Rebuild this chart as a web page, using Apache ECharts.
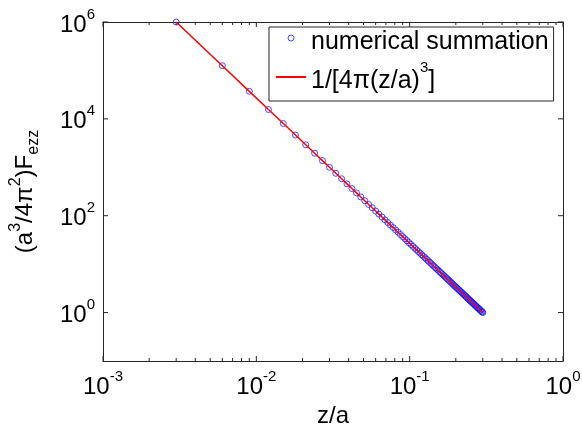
<!DOCTYPE html>
<html>
<head>
<meta charset="utf-8">
<script src="https://cdn.jsdelivr.net/npm/echarts@6/dist/echarts.min.js"></script>
<style>
  html, body { margin: 0; padding: 0; background: #fff; }
  #chart { width: 582px; height: 426px; }
</style>
</head>
<body>
<div id="chart"></div>
<script>
// z/a values of the plotted points
var zValues = [
  0.003, 0.006, 0.009, 0.012, 0.015, 0.018, 0.021, 0.024, 0.027, 0.030,
  0.033, 0.036, 0.039, 0.042, 0.045, 0.048, 0.051, 0.054, 0.057, 0.060,
  0.063, 0.066, 0.069, 0.072, 0.075, 0.078, 0.081, 0.084, 0.087, 0.090,
  0.093, 0.096, 0.099, 0.102, 0.105, 0.108, 0.111, 0.114, 0.117, 0.120,
  0.123, 0.126, 0.129, 0.132, 0.135, 0.138, 0.141, 0.144, 0.147, 0.150,
  0.153, 0.156, 0.159, 0.162, 0.165, 0.168, 0.171, 0.174, 0.177, 0.180,
  0.183, 0.186, 0.189, 0.192, 0.195, 0.198, 0.201, 0.204, 0.207, 0.210,
  0.213, 0.216, 0.219, 0.222, 0.225, 0.228, 0.231, 0.234, 0.237, 0.240,
  0.243, 0.246, 0.249, 0.252, 0.255, 0.258, 0.261, 0.264, 0.267, 0.270,
  0.273, 0.276, 0.279, 0.282, 0.285, 0.288, 0.291, 0.294, 0.297, 0.300
];
// numerical summation (blue circles)
var summation = [
  1000000, 125000, 37000, 15600, 8000, 4630, 2915, 1953, 1372, 1000,
  751, 579, 455, 364, 296, 244, 204, 171, 146, 125,
  108, 93.9, 82.2, 72.3, 64.0, 56.9, 50.8, 45.6, 41.0, 37.0,
  33.6, 30.5, 27.8, 25.4, 23.3, 21.4, 19.7, 18.2, 16.9, 15.6,
  14.5, 13.5, 12.6, 11.7, 11.0, 10.3, 9.63, 9.04, 8.50, 8.00,
  7.54, 7.11, 6.72, 6.35, 6.01, 5.69, 5.40, 5.13, 4.87, 4.63,
  4.41, 4.20, 4.00, 3.81, 3.64, 3.48, 3.32, 3.18, 3.04, 2.92,
  2.79, 2.68, 2.57, 2.47, 2.37, 2.28, 2.19, 2.11, 2.03, 1.95,
  1.88, 1.81, 1.75, 1.69, 1.63, 1.57, 1.52, 1.47, 1.42, 1.37,
  1.33, 1.28, 1.24, 1.20, 1.17, 1.13, 1.10, 1.06, 1.03, 1.00
];
// analytic curve 1/[4pi(z/a)^3] (red line)
var analytic = summation.slice();

var xMajorTicks = [0.001, 0.01, 0.1, 1];
var xMinorTicks = [
  0.002, 0.003, 0.004, 0.005, 0.006, 0.007, 0.008, 0.009,
  0.02, 0.03, 0.04, 0.05, 0.06, 0.07, 0.08, 0.09,
  0.2, 0.3, 0.4, 0.5, 0.6, 0.7, 0.8, 0.9
];
var yMajorTicks = [1, 100, 10000, 1000000];

var X_MIN = 0.001, X_MAX = 1, Y_MIN = 0.1, Y_MAX = 1000000;
var FONT = 'Arial, "Liberation Sans", sans-serif';
var AXIS_COLOR = '#262626';
var BLUE = '#1a1aff';

var scatterData = zValues.map(function (z, i) { return [z, summation[i]]; });
var lineData = zValues.map(function (z, i) { return [z, analytic[i]]; });

// tick marks: [x, y, side(0 bottom,1 top,2 left,3 right), major]
var tickData = [];
xMajorTicks.forEach(function (v) {
  tickData.push([v, Y_MIN, 0, 1]);
  tickData.push([v, Y_MAX, 1, 1]);
});
xMinorTicks.forEach(function (v) {
  tickData.push([v, Y_MIN, 0, 0]);
  tickData.push([v, Y_MAX, 1, 0]);
});
yMajorTicks.forEach(function (v) {
  tickData.push([X_MIN, v, 2, 1]);
  tickData.push([X_MAX, v, 3, 1]);
});

function powLabel(value, evenOnly) {
  var e = Math.round(Math.log10(value));
  if (evenOnly && (e % 2 !== 0 || e < 0)) return '';
  return '{b|10}{sup|' + e + '}';
}

var tickRich = {
  b: { fontSize: 24, fontFamily: FONT, color: '#000', lineHeight: 30, verticalAlign: 'bottom' },
  sup: { fontSize: 15, fontFamily: FONT, color: '#000', lineHeight: 30, verticalAlign: 'top' }
};

var chart = echarts.init(document.getElementById('chart'));

chart.setOption({
  backgroundColor: '#fff',
  animation: false,
  grid: { left: 103, right: 19, top: 22, bottom: 65, containLabel: false, outerBoundsMode: 'none' },
  legend: {
    left: 269,
    top: 27,
    orient: 'vertical',
    selectedMode: false,
    backgroundColor: '#fff',
    borderColor: AXIS_COLOR,
    borderWidth: 1,
    borderRadius: 0,
    padding: [3, 5, 7, 6],
    itemGap: 5,
    itemWidth: 30,
    itemHeight: 6,
    itemStyle: { borderWidth: 1 },
    textStyle: {
      fontSize: 25,
      fontFamily: FONT,
      color: '#000',
      rich: {
        n: { fontSize: 25, fontFamily: FONT, color: '#000', lineHeight: 34, verticalAlign: 'bottom' },
        sup: { fontSize: 15, fontFamily: FONT, color: '#000', lineHeight: 34, verticalAlign: 'top' }
      }
    },
    formatter: function (name) {
      if (name === 'analytic') return '{n|1/[4π(z/a)}{sup|3}{n|]}';
      return '{n|numerical summation}';
    },
    data: [
      { name: 'summation', itemStyle: { borderWidth: 1, borderColor: BLUE, color: 'rgba(255,255,255,0)' } },
      { name: 'analytic', itemStyle: { opacity: 0 } }
    ]
  },
  xAxis: [{
    type: 'log',
    logBase: 10,
    min: X_MIN,
    max: X_MAX,
    name: 'z/a',
    nameLocation: 'middle',
    nameGap: 28,
    nameTextStyle: { fontSize: 24, fontFamily: FONT, color: '#000' },
    axisLine: { show: true, lineStyle: { color: AXIS_COLOR, width: 1 } },
    axisTick: { show: false },
    splitLine: { show: false },
    axisLabel: {
      margin: 8,
      formatter: function (v) { return powLabel(v, false); },
      rich: tickRich
    }
  }, {
    type: 'log',
    logBase: 10,
    min: X_MIN,
    max: X_MAX,
    position: 'top',
    axisLine: { show: true, lineStyle: { color: AXIS_COLOR, width: 1 } },
    axisTick: { show: false },
    axisLabel: { show: false },
    splitLine: { show: false }
  }],
  yAxis: [{
    type: 'log',
    logBase: 10,
    min: Y_MIN,
    max: Y_MAX,
    name: '{n|(a}{sup|3}{n|/4π}{sup|2}{n|)F}{sub|ezz}',
    nameLocation: 'middle',
    nameGap: 61,
    nameRotate: 90,
    nameTextStyle: {
      rich: {
        n: { fontSize: 24, fontFamily: FONT, color: '#000', lineHeight: 34, verticalAlign: 'middle' },
        sup: { fontSize: 16, fontFamily: FONT, color: '#000', lineHeight: 34, verticalAlign: 'top' },
        sub: { fontSize: 16, fontFamily: FONT, color: '#000', lineHeight: 34, verticalAlign: 'bottom' }
      }
    },
    axisLine: { show: true, lineStyle: { color: AXIS_COLOR, width: 1 } },
    axisTick: { show: false },
    splitLine: { show: false },
    axisLabel: {
      margin: 8,
      formatter: function (v) { return powLabel(v, true); },
      rich: tickRich
    }
  }, {
    type: 'log',
    logBase: 10,
    min: Y_MIN,
    max: Y_MAX,
    position: 'right',
    axisLine: { show: true, lineStyle: { color: AXIS_COLOR, width: 1 } },
    axisTick: { show: false },
    axisLabel: { show: false },
    splitLine: { show: false }
  }],
  series: [{
    name: 'summation',
    type: 'scatter',
    symbol: 'circle',
    symbolSize: 6,
    itemStyle: { color: 'rgba(255,255,255,0)', borderColor: BLUE, borderWidth: 1 },
    data: scatterData,
    z: 2
  }, {
    name: 'analytic',
    type: 'line',
    showSymbol: false,
    symbol: 'none',
    lineStyle: { color: '#ff0000', width: 1.5 },
    itemStyle: { color: '#ff0000' },
    data: lineData,
    z: 3
  }, {
    name: 'ticks',
    type: 'custom',
    silent: true,
    clip: false,
    data: tickData,
    encode: { x: 0, y: 1 },
    renderItem: function (params, api) {
      var p = api.coord([api.value(0), api.value(1)]);
      var side = api.value(2);
      var len = api.value(3) ? 5 : 3;
      var dx = 0, dy = 0;
      if (side === 0) dy = -len;
      else if (side === 1) dy = len;
      else if (side === 2) dx = len;
      else dx = -len;
      return {
        type: 'line',
        shape: { x1: p[0], y1: p[1], x2: p[0] + dx, y2: p[1] + dy },
        style: { stroke: AXIS_COLOR, lineWidth: 1 }
      };
    },
    z: 1
  }]
});
</script>
</body>
</html>
